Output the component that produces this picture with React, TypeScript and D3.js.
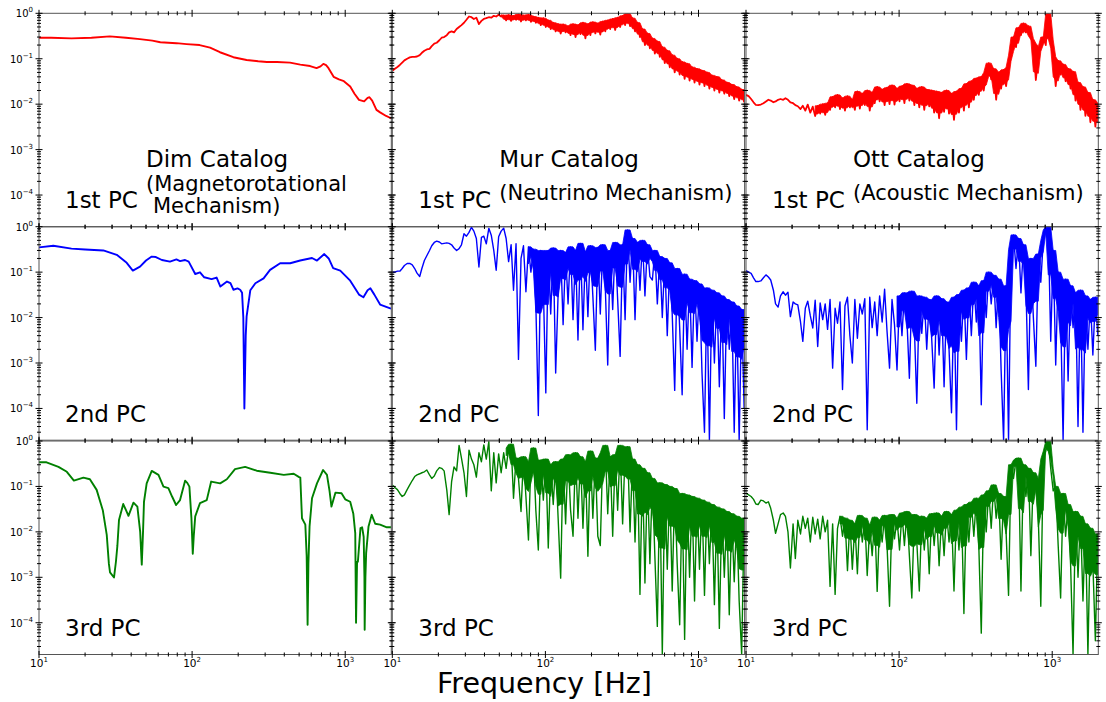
import React from "react";
import * as d3 from "d3";

// ---------- DATA ----------
// shared frequency grid (Hz) for the noisy spectra
const freqGrid = [
  10, 10.4, 10.8, 11.2, 11.6, 12.0, 12.5, 13.0, 13.5, 14.0,
  14.5, 15.1, 15.6, 16.2, 16.8, 17.5, 18.1, 18.8, 19.5, 20.3,
  21.0, 21.8, 22.7, 23.5, 24.4, 25.3, 26.3, 27.3, 28.3, 29.4,
  30.5, 31.7, 32.9, 34.1, 35.4, 36.8, 38.2, 39.6, 41.1, 42.7,
  44.3, 46.0, 47.7, 49.5, 51.4, 53.4, 55.4, 57.5, 59.7, 61.9,
  64.3, 66.7, 69.3, 71.9, 74.6, 77.5, 80.4, 83.4, 86.6, 89.9,
  93.3, 96.9, 100.6, 104.4, 108.3, 112.5, 116.7, 121.1, 125.8, 130.5,
  135.5, 140.6, 146.0, 151.5, 157.3, 163.2, 169.4, 175.9, 182.5, 189.5,
  196.7, 204.1, 211.9, 219.9, 228.3, 237.0, 246.0, 255.3, 265.0, 275.1,
  285.6, 296.4, 307.7, 319.4, 331.5, 344.1, 357.2, 370.8, 384.9, 399.5,
  414.6, 430.4, 446.8, 463.7, 481.4, 499.7, 518.6, 538.3, 558.8, 580.1,
  602.1, 625.0, 648.8, 673.4, 699.0, 725.6, 753.2, 781.8, 811.5, 842.3,
  874.4, 907.6, 942.1, 977.9, 1015, 1054, 1094, 1135, 1178, 1223,
  1270, 1318, 1368, 1420, 1474, 1530, 1588, 1648, 1711, 1776,
  1843, 1914, 1986,
];

// Dim catalog (smooth spectra), [frequency Hz, amplitude]
const dim1: [number, number][] = [
  [10, 0.29], [12, 0.29], [16.3, 0.28], [22, 0.29], [29, 0.31], [37, 0.29], [45.6, 0.27],
  [55, 0.25], [62, 0.23], [79, 0.22], [92, 0.21], [112, 0.2], [131, 0.175], [152, 0.139],
  [186, 0.108], [227, 0.094], [270, 0.088], [308, 0.085], [358, 0.085], [436, 0.082],
  [509, 0.074], [590, 0.069], [650, 0.062], [690, 0.068], [720, 0.077], [750, 0.072],
  [778, 0.062], [840, 0.04], [910, 0.035], [980, 0.032], [1078, 0.0245], [1150, 0.017],
  [1230, 0.0124], [1330, 0.0115], [1400, 0.0138], [1440, 0.0142], [1500, 0.012],
  [1600, 0.0075], [1690, 0.0066], [1850, 0.0055], [1990, 0.0049],
];

const dim2: [number, number][] = [
  [10, 0.35], [12.4, 0.38], [16.3, 0.33], [20, 0.315], [26.3, 0.3], [32.2, 0.24], [37.4, 0.16],
  [41, 0.108], [45.7, 0.132], [50, 0.18], [54.5, 0.22], [58, 0.215], [63.5, 0.185], [71.7, 0.17],
  [79, 0.19], [83.4, 0.175], [90, 0.185], [95, 0.17], [104.8, 0.091], [112.6, 0.099], [120, 0.077],
  [134, 0.07], [144.6, 0.076], [153, 0.048], [169, 0.062], [178, 0.057], [186, 0.041], [198, 0.044],
  [206, 0.041], [212, 0.035], [216, 0.01], [219.5, 0.0001], [222, 0.00077], [224, 0.004],
  [227, 0.0106], [240, 0.04], [259, 0.057], [293, 0.073], [323, 0.112], [376, 0.157], [437, 0.157],
  [508, 0.18], [607, 0.205], [654, 0.18], [730, 0.25], [780, 0.2], [834, 0.123], [928, 0.108],
  [1078, 0.065], [1230, 0.032], [1315, 0.028], [1400, 0.04], [1460, 0.044], [1550, 0.032],
  [1690, 0.0193], [1990, 0.0157],
];

const dim3: [number, number][] = [
  [10, 0.34], [11.2, 0.34], [13.4, 0.27], [15.2, 0.21], [16.9, 0.134], [19.5, 0.156], [21.5, 0.144],
  [23.8, 0.084], [26.1, 0.03], [27.7, 0.0086], [28.6, 0.002], [29.1, 0.00128], [30.9, 0.00099],
  [31.8, 0.0022], [32.5, 0.0049], [33.3, 0.0183], [35.5, 0.041], [37, 0.03], [38.4, 0.0225],
  [41.4, 0.044], [43.9, 0.036], [45.8, 0.01], [46.9, 0.0019], [47.8, 0.01], [48.5, 0.046],
  [50.5, 0.117], [54.5, 0.22], [60.3, 0.18], [65, 0.099], [70, 0.092], [74, 0.06], [78.6, 0.039],
  [83.4, 0.05], [90, 0.134], [93, 0.12], [96, 0.099], [99, 0.02], [101, 0.0033], [102.5, 0.008],
  [104.8, 0.022], [112.6, 0.043], [124.6, 0.05], [133.2, 0.128], [152.4, 0.117], [168.6, 0.144],
  [190.6, 0.24], [222, 0.27], [264, 0.222], [324, 0.2], [397, 0.18], [461, 0.19], [500, 0.16],
  [509, 0.156], [522, 0.02], [549, 0.0144], [560, 0.003], [568, 0.00009], [575, 0.002],
  [585, 0.0132], [607, 0.055], [654, 0.117], [717, 0.23], [760, 0.18], [790, 0.08], [813, 0.036],
  [863, 0.073], [946, 0.071], [1000, 0.052], [1078, 0.046], [1130, 0.025], [1163, 0.0094],
  [1177, 0.0001], [1195, 0.0022], [1210, 0.0022], [1258, 0.0121], [1290, 0.0126], [1320, 0.0078],
  [1335, 0.001], [1340, 0.00007], [1355, 0.001], [1370, 0.0034], [1420, 0.0132], [1490, 0.0237],
  [1570, 0.0151], [1690, 0.0144], [1870, 0.0126], [1990, 0.0126],
];

// Mur & Ott catalogs: amplitudes on freqGrid
const mur1 = [
  0.054, 0.06, 0.066, 0.073, 0.082, 0.092, 0.1, 0.107, 0.11, 0.11,
  0.112, 0.12, 0.135, 0.15, 0.16, 0.165, 0.19, 0.215, 0.225, 0.255,
  0.29, 0.3, 0.33, 0.38, 0.4, 0.38, 0.45, 0.5, 0.55, 0.62,
  0.72, 0.85, 0.82, 0.75, 0.8, 0.58, 0.68, 0.75, 0.78, 0.82,
  0.8, 0.88, 0.85, 0.93, 0.85, 0.9, 0.7, 0.92, 0.68, 0.88,
  0.72, 0.95, 0.66, 0.9, 0.7, 0.93, 0.65, 0.85, 0.62, 0.8,
  0.55, 0.78, 0.5, 0.7, 0.45, 0.62, 0.4, 0.58, 0.36, 0.57,
  0.38, 0.52, 0.33, 0.58, 0.3, 0.55, 0.35, 0.62, 0.28, 0.58,
  0.33, 0.64, 0.36, 0.6, 0.34, 0.66, 0.4, 0.7, 0.45, 0.75,
  0.43, 0.8, 0.5, 0.88, 0.55, 1.0, 0.52, 0.78, 0.4, 0.62,
  0.3, 0.45, 0.2, 0.36, 0.17, 0.28, 0.13, 0.24, 0.11, 0.18,
  0.08, 0.15, 0.065, 0.12, 0.05, 0.1, 0.045, 0.085, 0.036, 0.078,
  0.033, 0.065, 0.03, 0.06, 0.027, 0.055, 0.025, 0.05, 0.022, 0.043,
  0.02, 0.04, 0.018, 0.034, 0.017, 0.03, 0.015, 0.027, 0.013, 0.024,
  0.012, 0.021, 0.011,
];

const ott1 = [
  0.016, 0.015, 0.013, 0.011, 0.0096, 0.0095, 0.0098, 0.0105, 0.0115, 0.0125,
  0.012, 0.011, 0.0115, 0.0125, 0.013, 0.0125, 0.0135, 0.0125, 0.011, 0.0105,
  0.0095, 0.009, 0.0078, 0.0092, 0.0072, 0.0098, 0.0065, 0.0088, 0.0055, 0.0092,
  0.0062, 0.01, 0.0058, 0.0105, 0.0075, 0.0145, 0.0085, 0.016, 0.0078, 0.0135,
  0.0072, 0.015, 0.0085, 0.0125, 0.0075, 0.019, 0.008, 0.017, 0.0095, 0.02,
  0.0072, 0.018, 0.0105, 0.024, 0.0115, 0.021, 0.0095, 0.023, 0.01, 0.026,
  0.0098, 0.022, 0.0115, 0.025, 0.0105, 0.028, 0.012, 0.026, 0.0095, 0.022,
  0.0085, 0.024, 0.0075, 0.021, 0.009, 0.02, 0.0065, 0.019, 0.0049, 0.018,
  0.0068, 0.02, 0.0062, 0.017, 0.0045, 0.019, 0.0065, 0.022, 0.0072, 0.028,
  0.0085, 0.032, 0.0125, 0.037, 0.016, 0.04, 0.02, 0.05, 0.08, 0.035,
  0.06, 0.0125, 0.05, 0.022, 0.057, 0.025, 0.065, 0.12, 0.3, 0.18,
  0.48, 0.33, 0.6, 0.38, 0.52, 0.28, 0.22, 0.034, 0.12, 0.185,
  0.3, 0.2, 1.0, 0.26, 0.11, 0.025, 0.09, 0.045, 0.075, 0.032,
  0.06, 0.022, 0.052, 0.012, 0.03, 0.0075, 0.024, 0.0055, 0.018, 0.004,
  0.0125, 0.0032, 0.0105,
];

const mur2 = [
  0.1, 0.1, 0.105, 0.105, 0.12, 0.14, 0.155, 0.155, 0.145, 0.12,
  0.095, 0.08, 0.12, 0.18, 0.23, 0.3, 0.38, 0.45, 0.48, 0.46,
  0.42, 0.43, 0.44, 0.43, 0.4, 0.34, 0.3, 0.33, 0.4, 0.7,
  0.62, 0.75, 0.97, 0.8, 0.55, 0.13, 0.58, 0.62, 0.42, 0.92,
  0.65, 0.3, 0.11, 0.6, 0.8, 0.93, 0.55, 0.17, 0.4, 0.04,
  0.42, 0.0012, 0.2, 0.38, 0.037, 0.36, 0.1, 0.32, 0.02, 0.00007,
  0.3, 0.05, 0.00022, 0.3, 0.012, 0.34, 0.0006, 0.034, 0.3, 0.007,
  0.27, 0.02, 0.36, 0.009, 0.3, 0.0032, 0.43, 0.0054, 0.28, 0.0105,
  0.38, 0.03, 0.0019, 0.35, 0.012, 0.4, 0.05, 0.0009, 0.3, 0.015,
  0.45, 0.025, 0.0014, 0.4, 0.009, 0.85, 0.06, 0.55, 0.009, 0.45,
  0.04, 0.5, 0.03, 0.4, 0.08, 0.067, 0.3, 0.02, 0.22, 0.01,
  0.2, 0.004, 0.16, 0.012, 0.00025, 0.12, 0.006, 0.0002, 0.09, 0.002,
  0.07, 0.0008, 0.065, 0.003, 0.055, 0.0006, 0.00003, 0.045, 0.00002, 0.04,
  0.001, 0.035, 0.0003, 0.03, 0.00006, 0.025, 0.002, 0.022, 0.00003, 0.018,
  0.00002, 0.015, 0.0001,
];

const ott2 = [
  0.108, 0.1, 0.094, 0.075, 0.062, 0.062, 0.064, 0.075, 0.087, 0.078,
  0.067, 0.04, 0.02, 0.017, 0.03, 0.037, 0.031, 0.036, 0.0105, 0.022,
  0.02, 0.019, 0.008, 0.003, 0.016, 0.023, 0.011, 0.0059, 0.024, 0.0023,
  0.021, 0.009, 0.02, 0.0055, 0.025, 0.00077, 0.016, 0.0075, 0.022, 0.00026,
  0.018, 0.028, 0.004, 0.001, 0.025, 0.0035, 0.02, 0.012, 0.026, 0.000034,
  0.028, 0.006, 0.022, 0.004, 0.03, 0.008, 0.042, 0.005, 0.00077, 0.025,
  0.007, 0.0007, 0.03, 0.004, 0.035, 0.009, 0.00046, 0.038, 0.006, 0.00013,
  0.03, 0.0045, 0.028, 0.002, 0.025, 0.0035, 0.00028, 0.03, 0.0015, 0.026,
  0.0003, 0.022, 0.002, 0.00008, 0.028, 0.000034, 0.032, 0.003, 0.04, 0.0012,
  0.045, 0.004, 0.06, 0.008, 0.05, 0.00012, 0.065, 0.01, 0.1, 0.02,
  0.085, 0.006, 0.07, 0.0007, 0.00002, 0.05, 0.00002, 0.31, 0.66, 0.12,
  0.55, 0.035, 0.4, 0.05, 0.00026, 0.2, 0.01, 0.00085, 0.25, 0.06,
  0.5, 0.85, 1.0, 0.003, 0.3, 0.0009, 0.1, 0.012, 0.00002, 0.07,
  0.0004, 0.05, 0.006, 0.035, 0.00004, 0.04, 0.00003, 0.03, 0.002, 0.025,
  0.0015, 0.028, 0.004,
];

const mur3 = [
  0.108, 0.095, 0.085, 0.07, 0.06, 0.065, 0.085, 0.108, 0.135, 0.165,
  0.18, 0.19, 0.2, 0.21, 0.23, 0.18, 0.15, 0.17, 0.22, 0.26,
  0.25, 0.22, 0.083, 0.024, 0.128, 0.27, 0.22, 0.8, 0.42, 0.2,
  0.06, 0.63, 0.4, 0.3, 0.16, 0.55, 0.35, 0.82, 0.4, 0.97,
  0.08, 0.55, 0.12, 0.52, 0.2, 0.55, 0.25, 0.7, 0.85, 0.055,
  0.42, 0.15, 0.028, 0.45, 0.06, 0.0066, 0.35, 0.7, 0.03, 0.004,
  0.38, 0.05, 0.4, 0.0044, 0.3, 0.04, 0.35, 0.02, 0.00096, 0.4,
  0.015, 0.5, 0.03, 0.008, 0.55, 0.02, 0.45, 0.012, 0.35, 0.0029,
  0.6, 0.02, 0.42, 0.008, 0.005, 0.55, 0.8, 0.025, 0.45, 0.008,
  0.5, 0.03, 0.8, 0.015, 0.55, 0.75, 0.01, 0.4, 0.006, 0.3,
  0.00042, 0.25, 0.00075, 0.2, 0.002, 0.15, 0.003, 0.000083, 0.12, 0.00002,
  0.11, 0.0015, 0.1, 0.0005, 0.09, 0.002, 0.00009, 0.07, 0.000043, 0.065,
  0.001, 0.06, 0.0003, 0.055, 0.0015, 0.05, 0.0004, 0.045, 0.002, 0.04,
  0.00025, 0.035, 0.000075, 0.032, 0.001, 0.028, 0.00015, 0.025, 0.0008, 0.022,
  0.0003, 0.00002, 0.02,
];

const ott3 = [
  0.071, 0.065, 0.06, 0.052, 0.041, 0.04, 0.05, 0.048, 0.043, 0.046,
  0.033, 0.018, 0.0093, 0.015, 0.024, 0.026, 0.022, 0.01, 0.0016, 0.015,
  0.0026, 0.018, 0.009, 0.022, 0.012, 0.02, 0.006, 0.021, 0.009, 0.019,
  0.007, 0.022, 0.01, 0.018, 0.00063, 0.015, 0.00042, 0.012, 0.022, 0.008,
  0.02, 0.0014, 0.018, 0.0015, 0.015, 0.0012, 0.023, 0.006, 0.02, 0.0011,
  0.014, 0.003, 0.021, 0.00049, 0.018, 0.006, 0.023, 0.005, 0.00023, 0.024,
  0.007, 0.02, 0.004, 0.026, 0.005, 0.028, 0.003, 0.00035, 0.024, 0.006,
  0.0005, 0.022, 0.004, 0.02, 0.0012, 0.025, 0.005, 0.026, 0.0018, 0.022,
  0.003, 0.028, 0.006, 0.024, 0.0005, 0.03, 0.004, 0.035, 0.00016, 0.04,
  0.006, 0.045, 0.008, 0.055, 0.005, 0.000059, 0.065, 0.01, 0.08, 0.012,
  0.108, 0.02, 0.07, 0.0025, 0.06, 0.01, 0.0004, 0.3, 0.15, 0.38,
  0.42, 0.0005, 0.3, 0.06, 0.25, 0.003, 0.2, 0.15, 0.02, 0.00023,
  0.4, 0.6, 1.0, 0.25, 0.08, 0.1, 0.005, 0.00035, 0.07, 0.008,
  0.04, 0.002, 0.00002, 0.028, 0.001, 0.022, 0.0003, 0.015, 0.00002, 0.012,
  0.002, 0.00004, 0.009,
];

// axis ticks and labels
const xMajorTicks = [10, 100, 1000];
const xTickExps = ["1", "2", "3"];
const yMajorTicks = [1, 0.1, 0.01, 0.001, 0.0001];
const yTickExps = ["0", "\u22121", "\u22122", "\u22123", "\u22124"];
const catalogNames = ["Dim Catalog", "Mur Catalog", "Ott Catalog"];
const mechanismLines = [["(Magnetorotational", "Mechanism)"], ["(Neutrino Mechanism)"], ["(Acoustic Mechanism)"]];
const pcLabels = ["1st PC", "2nd PC", "3rd PC"];
const colors = ["#ff0000", "#0000ff", "#008000"];

// ---------- LAYOUT ----------
const COLS = [39, 392.3, 746];
const ROWS = [13.3, 226.7, 441];
const PW = 352.3;
const PH = 213.5;
const FONT = "DejaVu Sans, Verdana, sans-serif";

const onGrid = (vals: number[]): [number, number][] => freqGrid.map((f, i) => [f, vals[i]]);

const series: [number, number][][][] = [
  [dim1, onGrid(mur1), onGrid(ott1)],
  [dim2, onGrid(mur2), onGrid(ott2)],
  [dim3, onGrid(mur3), onGrid(ott3)],
];

// rendering of the dense (unresolved) part of each noisy spectrum:
// [start frequency of the dense band, depth of the filled core in log space]
const denseBand: ([number, number] | null)[][] = [
  [null, [50, 0.8], [28, 0.8]],
  [null, [75, 0.38], [95, 0.42]],
  [null, [55, 0.38], [40, 0.38]],
];

export default function App() {
  const x = d3.scaleLog().domain([10, 2000]).range([0, PW]);
  const y = d3.scaleLog().domain([1, 2e-5]).range([0, PH]).clamp(true);
  const line = d3
    .line<[number, number]>()
    .x((d) => x(d[0]))
    .y((d) => y(d[1]));
  const area = d3
    .area<{ f: number; hi: number; lo: number }>()
    .x((d) => x(d.f))
    .y0((d) => y(d.lo))
    .y1((d) => y(d.hi));

  const xMinor: number[] = [];
  [10, 100, 1000].forEach((b) => {
    for (let k = 2; k <= 9; k++) if (b * k < 2000) xMinor.push(b * k);
  });
  const yMinor: number[] = [];
  [0.1, 0.01, 0.001, 0.0001, 0.00001].forEach((b) => {
    for (let k = 2; k <= 9; k++) if (b * k > 2e-5 && b * k < 1) yMinor.push(b * k);
  });

  const panels: React.ReactNode[] = [];
  for (let r = 0; r < 3; r++) {
    for (let c = 0; c < 3; c++) {
      const id = `clip-${r}-${c}`;
      const data = series[r][c];
      const isDim = c === 0;
      const band = denseBand[r][c];
      let bandPath = "";
      if (band) {
        const [start, depth] = band;
        const env = data
          .map((d, i) => {
            const w = data.slice(Math.max(0, i - 1), i + 2).map((p) => p[1]);
            const mx = Math.max(...w);
            const mn = Math.min(...w);
            const lo = Math.exp(Math.log(mx) + depth * (Math.log(mn) - Math.log(mx)));
            return { f: d[0], hi: mx, lo };
          })
          .filter((e) => e.f >= start);
        bandPath = area(env) || "";
      }
      const ticks: React.ReactNode[] = [];
      const maj = 3.5;
      const mnr = 2;
      xMajorTicks.concat(xMinor).forEach((t, i) => {
        const L = xMajorTicks.includes(t) ? maj : mnr;
        const px = x(t);
        ticks.push(<line key={`xt${i}`} x1={px} x2={px} y1={-L} y2={L} />);
        ticks.push(<line key={`xb${i}`} x1={px} x2={px} y1={PH - L} y2={PH + L} />);
      });
      yMajorTicks.concat(yMinor).forEach((t, i) => {
        const L = yMajorTicks.includes(t) ? maj : mnr;
        const py = y(t);
        ticks.push(<line key={`yl${i}`} x1={-L} x2={L} y1={py} y2={py} />);
        ticks.push(<line key={`yr${i}`} x1={PW - L} x2={PW + L} y1={py} y2={py} />);
      });
      panels.push(
        <g key={id} transform={`translate(${COLS[c]},${ROWS[r]})`}>
          <defs>
            <clipPath id={id}>
              <rect x={0} y={0} width={PW} height={PH} />
            </clipPath>
          </defs>
          <g clipPath={`url(#${id})`}>
            {bandPath && <path d={bandPath} fill={colors[r]} stroke={colors[r]} strokeWidth={0.8} />}
            <path
              d={line(data) || ""}
              fill="none"
              stroke={colors[r]}
              strokeWidth={isDim ? 1.9 : r === 0 ? 1.8 : 1.4}
              strokeLinejoin="round"
            />
          </g>
          <rect x={0} y={0} width={PW} height={PH} fill="none" stroke="#555" strokeWidth={1} />
          <g stroke="#000" strokeWidth={1}>{ticks}</g>
          <text x={26} y={195} fontSize={23} fontFamily={FONT} fill="#000">
            {pcLabels[r]}
          </text>
        </g>
      );
    }
  }

  const yLabels: React.ReactNode[] = [];
  for (let r = 0; r < 3; r++) {
    yMajorTicks.forEach((t, i) => {
      yLabels.push(
        <text key={`yl-${r}-${i}`} x={33} y={ROWS[r] + y(t) + 4} textAnchor="end" fontSize={10} fontFamily={FONT} fill="#000">
          10
          <tspan dy={-5} fontSize={7}>
            {yTickExps[i]}
          </tspan>
        </text>
      );
    });
  }

  const xLabels: React.ReactNode[] = [];
  for (let c = 0; c < 3; c++) {
    xMajorTicks.forEach((t, i) => {
      xLabels.push(
        <text key={`xl-${c}-${i}`} x={COLS[c] + x(t)} y={667} textAnchor="middle" fontSize={10.5} fontFamily={FONT} fill="#000">
          10
          <tspan dy={-5} fontSize={7}>
            {xTickExps[i]}
          </tspan>
        </text>
      );
    });
  }

  const titles: React.ReactNode[] = [];
  for (let c = 0; c < 3; c++) {
    const x0 = COLS[c] + 107;
    titles.push(
      <text key={`t${c}`} x={x0} y={167} fontSize={23} fontFamily={FONT} fill="#000">
        {catalogNames[c]}
      </text>
    );
    const lines = mechanismLines[c];
    if (lines.length === 2) {
      titles.push(
        <text key={`m${c}a`} x={x0} y={191} fontSize={21} fontFamily={FONT} fill="#000">
          {lines[0]}
        </text>
      );
      titles.push(
        <text key={`m${c}b`} x={x0 + 7} y={213} fontSize={21} fontFamily={FONT} fill="#000">
          {lines[1]}
        </text>
      );
    } else {
      titles.push(
        <text key={`m${c}a`} x={x0} y={200} fontSize={21} fontFamily={FONT} fill="#000">
          {lines[0]}
        </text>
      );
    }
  }

  return (
    <svg
      width={1106}
      height={702}
      style={{ position: "absolute", left: 0, top: 0, background: "#fff" }}
    >
      <rect x={0} y={0} width={1106} height={702} fill="#fff" />
      {panels}
      {yLabels}
      {xLabels}
      {titles}
      <text x={437} y={693} fontSize={28.5} fontFamily={FONT} fill="#000">
        Frequency [Hz]
      </text>
    </svg>
  );
}
